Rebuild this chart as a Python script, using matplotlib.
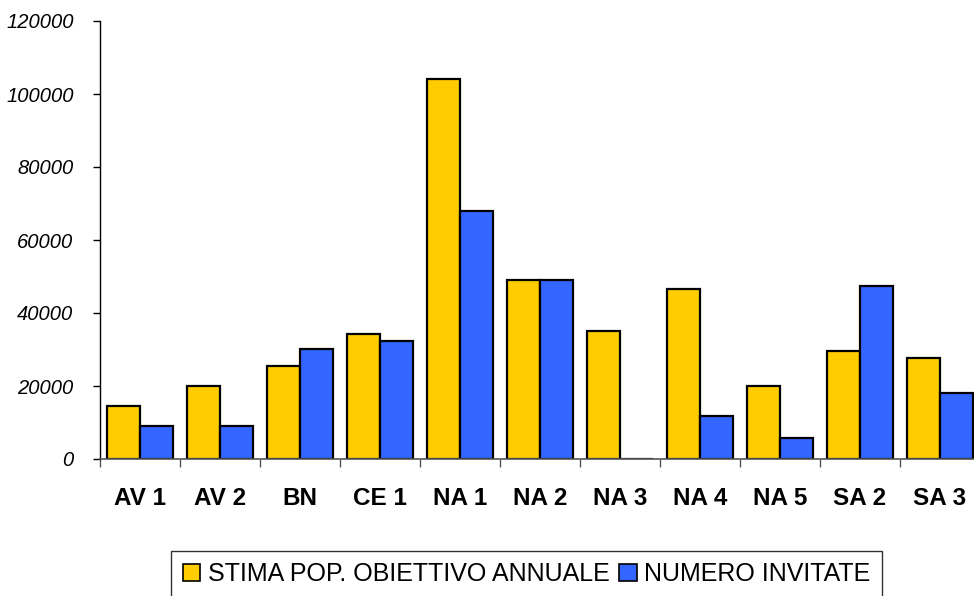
import numpy as np
import matplotlib
matplotlib.use("Agg")
import matplotlib.pyplot as plt
from matplotlib.patches import Patch

# data
categories = ["AV 1", "AV 2", "BN", "CE 1", "NA 1", "NA 2", "NA 3", "NA 4", "NA 5", "SA 2", "SA 3"]
stima = [14500, 20000, 25500, 34200, 104100, 49000, 35000, 46600, 20000, 29600, 27700]
invitate = [9000, 9000, 30100, 32300, 67900, 49000, 0, 11800, 5750, 47400, 18100]
yticks = [0, 20000, 40000, 60000, 80000, 100000, 120000]

plt.rcParams["font.family"] = ["Liberation Sans", "DejaVu Sans"]

fig = plt.figure(figsize=(9.74, 5.96), dpi=100)
ax = fig.add_axes([100 / 974, 1 - 459 / 596, 880 / 974, 438 / 596])

x = np.arange(len(categories))
w = 0.415
ax.bar(x - w / 2, stima, w, color="#FFCC00", edgecolor="black", linewidth=1.6,
       label="STIMA POP. OBIETTIVO ANNUALE")
ax.bar(x + w / 2, invitate, w, color="#3366FF", edgecolor="black", linewidth=1.6,
       label="NUMERO INVITATE")

ax.set_xlim(-0.5, len(categories) - 0.5)
ax.set_ylim(0, 120000)

ax.set_yticks(yticks)
ax.set_yticklabels([str(t) for t in yticks], fontstyle="italic", fontsize=14.5)
ax.tick_params(axis="y", direction="out", length=5, width=1, pad=14)

# category boundaries as ticks, labels centered
ax.set_xticks(np.arange(len(categories) + 1) - 0.5)
ax.set_xticklabels([])
ax.set_xticks(x, minor=True)
ax.set_xticklabels(categories, minor=True, fontweight="bold", fontsize=17.5)
ax.tick_params(axis="x", which="major", direction="out", length=6, width=1, color="#555555")
ax.tick_params(axis="x", which="minor", length=0, pad=20)

for s in ["top", "right"]:
    ax.spines[s].set_visible(False)
ax.spines["left"].set_linewidth(1)
ax.spines["bottom"].set_color("#555555")
ax.spines["bottom"].set_linewidth(1.2)

handles = [Patch(facecolor="#FFCC00", edgecolor="black", linewidth=1.2),
           Patch(facecolor="#3366FF", edgecolor="black", linewidth=1.2)]
labels = ["STIMA POP. OBIETTIVO ANNUALE", "NUMERO INVITATE"]
leg = fig.legend(handles, labels, loc="center", ncol=2,
                 bbox_to_anchor=((168 + 885) / 2 / 974, 1 - 574 / 596),
                 frameon=True, fancybox=False, edgecolor="black",
                 handlelength=0.7, handleheight=0.7, handletextpad=0.3,
                 columnspacing=0.4, borderpad=0.45,
                 prop={"family": ["Liberation Sans Narrow", "Liberation Sans"], "size": 18})
leg.get_frame().set_linewidth(1)

fig.savefig("out.png", dpi=100)
